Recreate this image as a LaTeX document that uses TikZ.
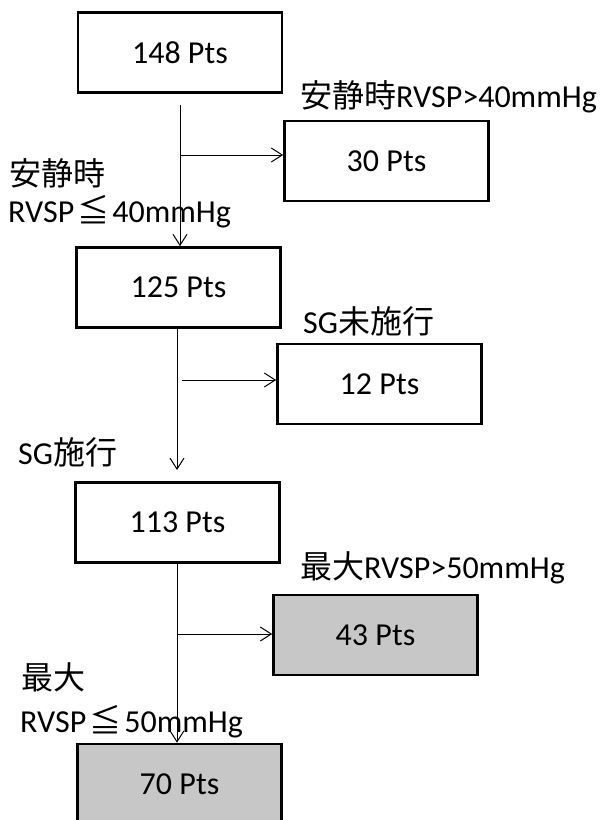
\documentclass[tikz,border=0pt]{standalone}
\usepackage{fontspec}
\setmainfont{Carlito}
\newfontfamily\jp{Noto Sans CJK JP}
\usetikzlibrary{arrows.meta}
\begin{document}
\begin{tikzpicture}[x=1bp,y=-1bp,
  box/.style={draw=black, line width=2.6bp, minimum width=204bp, minimum height=80bp, inner sep=0pt, font=\fontsize{32bp}{38bp}\selectfont},
  graybox/.style={box, fill=black!22},
  lbl/.style={anchor=base west, inner sep=0pt, font=\fontsize{32bp}{38bp}\selectfont},
  arr/.style={line width=1bp, -{Straight Barb[length=11bp,width=14bp,line width=1bp]}}]
\useasboundingbox (0,0) rectangle (602,820);

% boxes
\node[box] (b1) at (180,52.5) {148 Pts};
\node[box] (b30) at (386.5,161) {30 Pts};
\node[box] (b2) at (178.5,287.5) {125 Pts};
\node[box] (b12) at (379.5,384) {12 Pts};
\node[box] (b3) at (177.5,522.5) {113 Pts};
\node[graybox] (b43) at (375.5,635) {43 Pts};
\node[graybox] (b70) at (179.5,784) {70 Pts};

% labels
\node[lbl] (l1) at (300,107) {{\jp 安静時}RVSP>40mmHg};
\node[lbl] (l2) at (9,185) {\jp 安静時};
\node[lbl] (l3) at (8,222) {RVSP\kern3bp{\jp ≦}\kern3bp 40mmHg};
\node[lbl] (l4) at (303,333) {SG{\jp 未施行}};
\node[lbl] (l5) at (18,464) {SG{\jp 施行}};
\node[lbl] (l6) at (300,578) {{\jp 最大}RVSP>50mmHg};
\node[lbl] (l7) at (21,689) {\jp 最大};
\node[lbl] (l8) at (20,732) {RVSP\kern3bp{\jp ≦}\kern3bp 50mmHg};

% connectors
\coordinate (s1) at (180,105);
\coordinate (j1) at (180,155);
\draw[arr] (s1) -- (s1 |- b2.north);
\draw[arr] (j1) -- (j1 -| b30.west);

\coordinate (s2) at (177,380);
\coordinate (j2) at (182,380);
\coordinate (e2) at (177,470);
\draw[arr] (s2 |- b2.south) -- (e2);
\draw[arr] (j2) -- (j2 -| b12.west);

\coordinate (s3) at (177,634);
\draw[arr] (s3 |- b3.south) -- (s3 |- b70.north);
\draw[arr] (s3) -- (s3 -| b43.west);
\end{tikzpicture}
\end{document}
